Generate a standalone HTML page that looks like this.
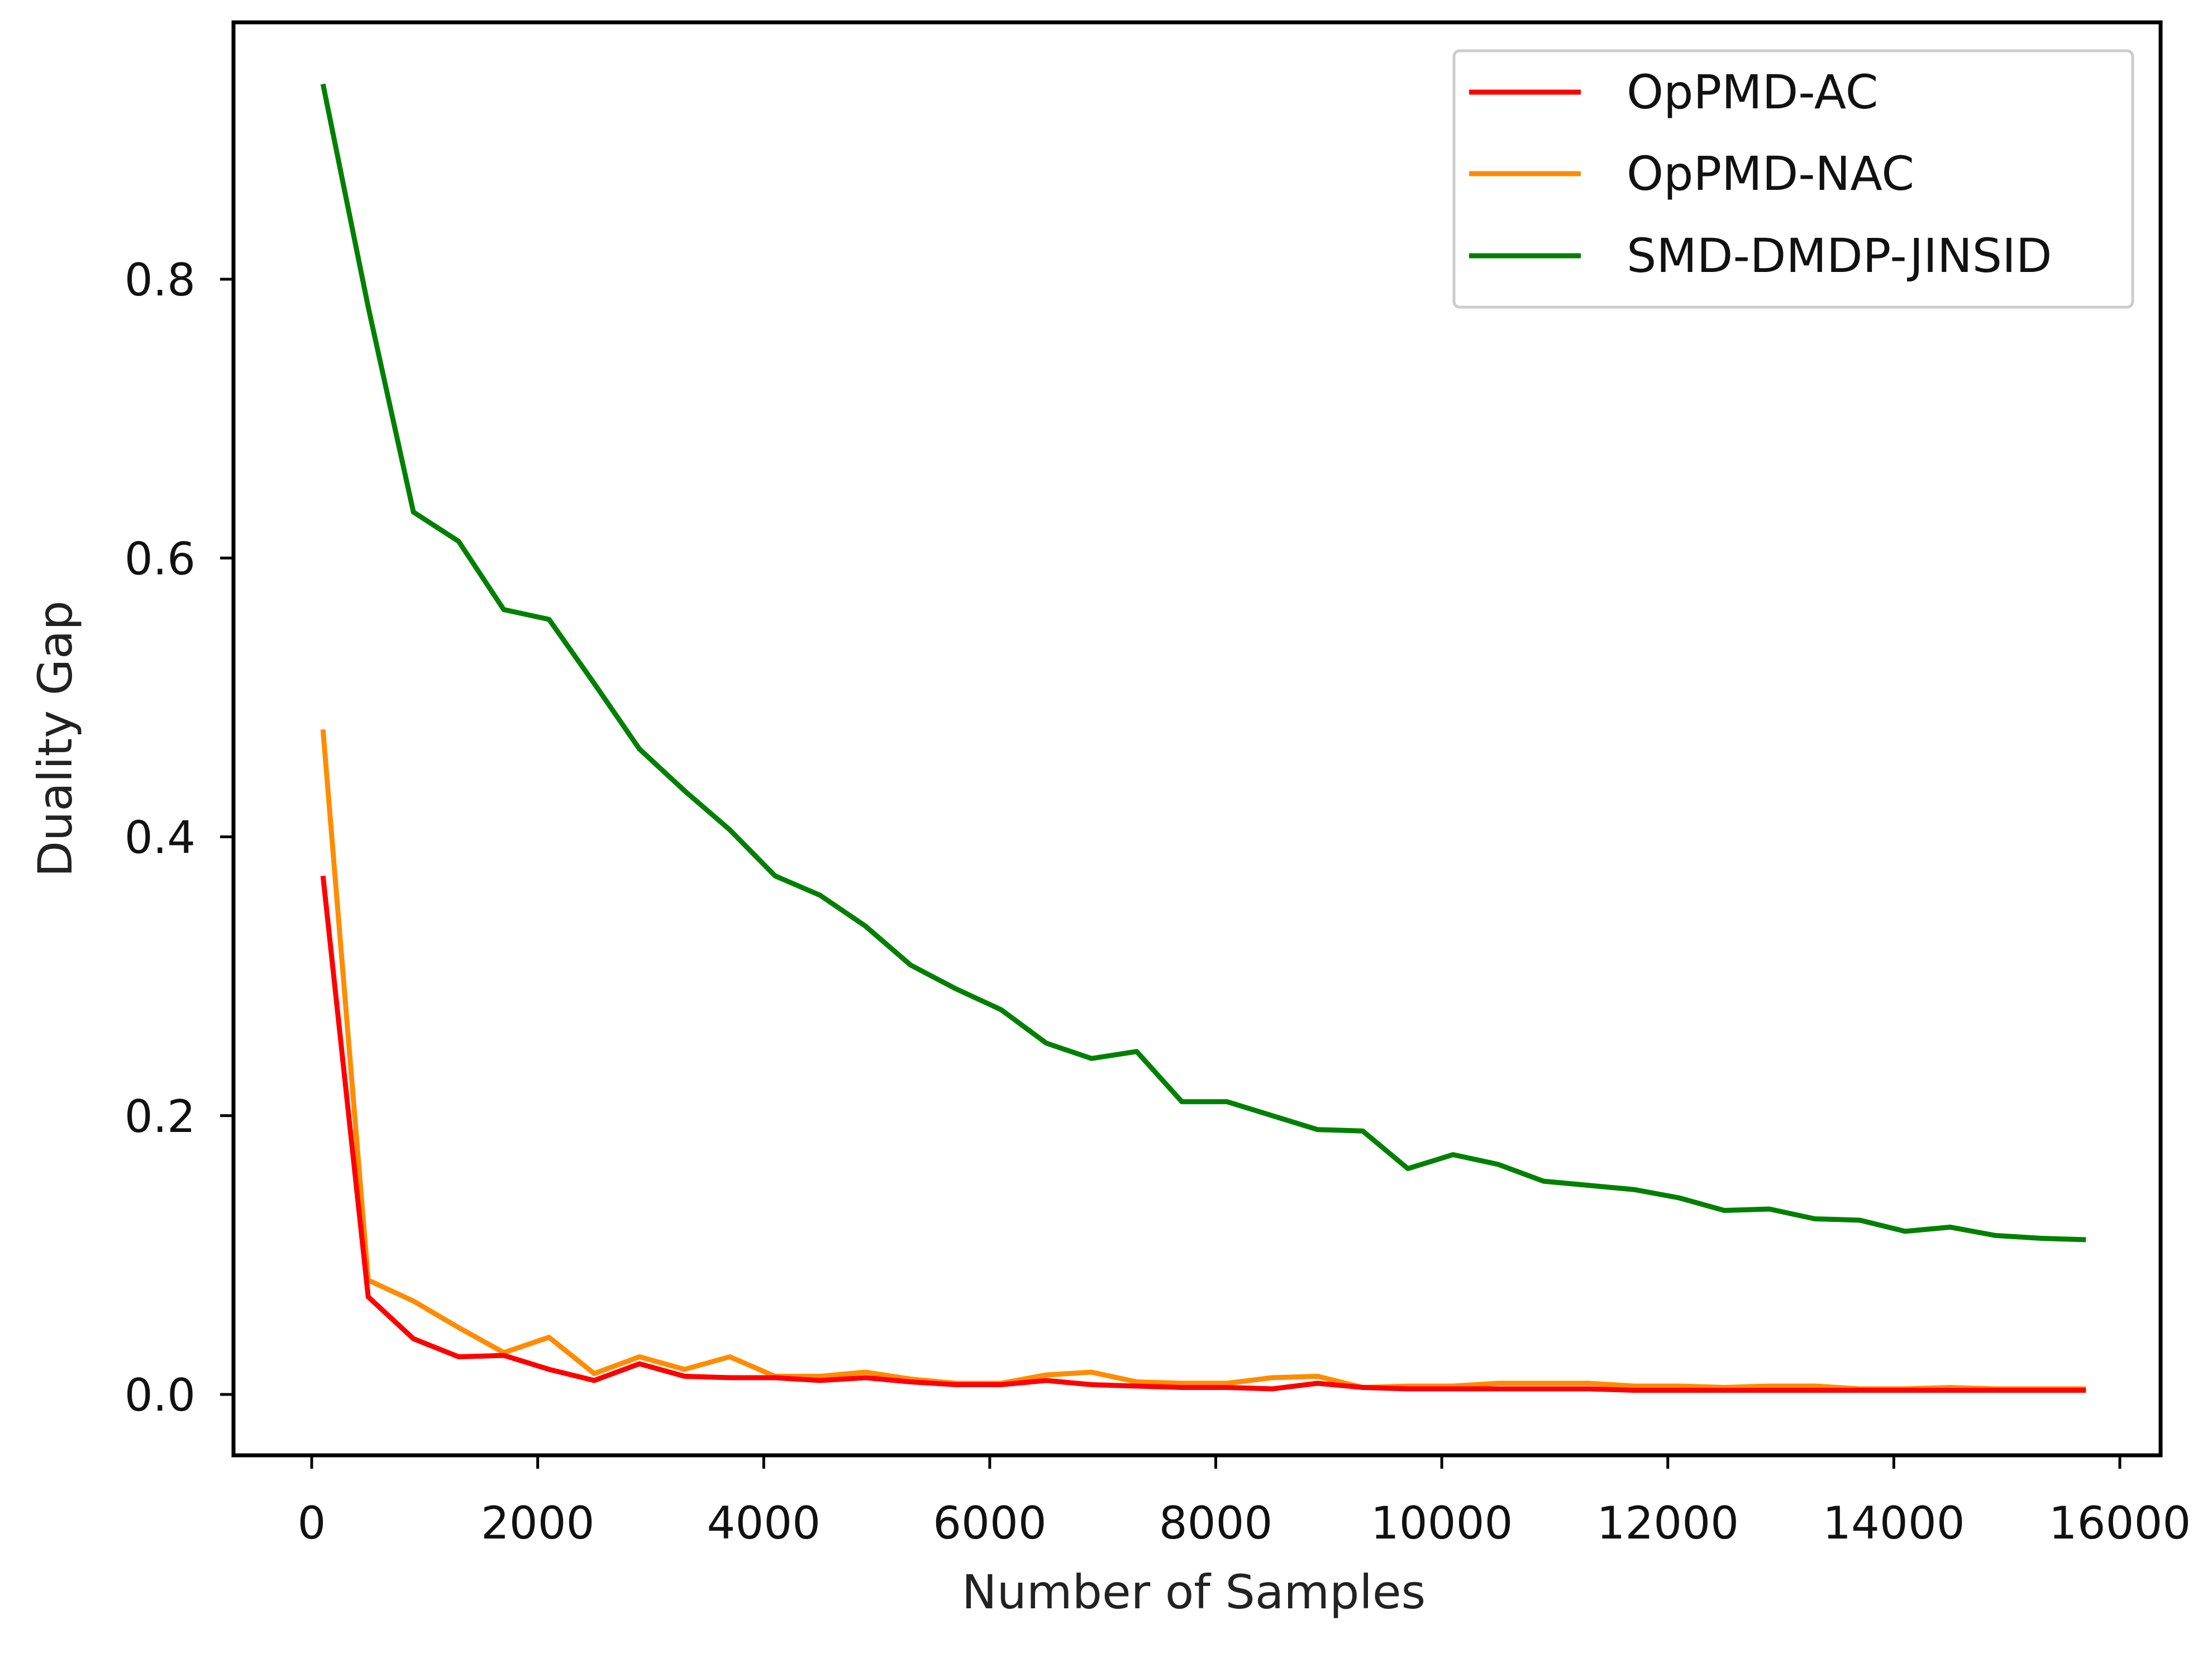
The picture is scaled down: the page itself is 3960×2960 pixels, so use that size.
<!DOCTYPE html>
<html><head><meta charset="utf-8"><style>
html,body{margin:0;padding:0;background:#fff;}
svg{display:block;font-family:"DejaVu Sans","Liberation Sans",sans-serif;}
</style></head><body>
<svg id="chart" width="3960" height="2960" viewBox="0 0 3960 2960">
<rect x="0" y="0" width="3960" height="2960" fill="#fff"/>
<g id="grid"></g>
<g id="series"></g>
<rect x="418" y="40" width="3450" height="2566" fill="none" stroke="#000" stroke-width="7"/>
<g id="xticks"></g>
<g id="yticks"></g>
<text x="2137" y="2880" font-size="84" text-anchor="middle" fill="#222">Number of Samples</text>
<text transform="translate(128,1323) rotate(-90)" font-size="84" text-anchor="middle" fill="#222">Duality Gap</text>
<g>
<rect x="2603" y="91" width="1215" height="459" rx="10" fill="#fff" stroke="#ccc" stroke-width="5"/>
<g>
<line x1="2630" y1="165" x2="2830" y2="165" stroke="#ff0000" stroke-width="9"/>
<text x="2912" y="194" font-size="84" fill="#111">OpPMD-AC</text></g>
<g>
<line x1="2630" y1="311" x2="2830" y2="311" stroke="#ff8c00" stroke-width="9"/>
<text x="2912" y="340" font-size="84" fill="#111">OpPMD-NAC</text></g>
<g>
<line x1="2630" y1="458" x2="2830" y2="458" stroke="#008000" stroke-width="9"/>
<text x="2912" y="487" font-size="84" fill="#111">SMD-DMDP-JINSID</text></g>
</g>
</svg>
<script>
const xStart = 100;
const xStep = 400;
const xTicks = [0,2000,4000,6000,8000,10000,12000,14000,16000];
const yTicks = [0.0,0.2,0.4,0.6,0.8];
const yTickLabels = ["0.0","0.2","0.4","0.6","0.8"];
const greenVals = [0.94,0.78,0.633,0.612,0.563,0.556,0.51,0.463,0.433,0.405,0.372,0.358,0.336,0.308,0.291,0.276,0.252,0.241,0.246,0.21,0.21,0.2,0.19,0.189,0.162,0.172,0.165,0.153,0.15,0.147,0.141,0.132,0.133,0.126,0.125,0.117,0.12,0.114,0.112,0.111];
const redVals = [0.372,0.07,0.04,0.027,0.028,0.018,0.01,0.022,0.013,0.012,0.012,0.01,0.012,0.009,0.007,0.007,0.01,0.007,0.006,0.005,0.005,0.004,0.008,0.005,0.004,0.004,0.004,0.004,0.004,0.003,0.003,0.003,0.003,0.003,0.003,0.003,0.003,0.003,0.003,0.003];
const orangeVals = [0.477,0.082,0.067,0.048,0.03,0.041,0.015,0.027,0.018,0.027,0.013,0.013,0.016,0.011,0.008,0.008,0.014,0.016,0.009,0.008,0.008,0.012,0.013,0.005,0.006,0.006,0.008,0.008,0.008,0.006,0.006,0.005,0.006,0.006,0.004,0.004,0.005,0.004,0.004,0.004];

const NS="http://www.w3.org/2000/svg";
function xs(v){return 558+(v-0)*(3795-558)/16000;}
function ys(v){return 2497-v*(2497-500)/0.8;}
const xt=document.getElementById('xticks'), yt=document.getElementById('yticks'), sg=document.getElementById('series');
xTicks.forEach(t=>{
  const l=document.createElementNS(NS,'line');
  l.setAttribute('x1',xs(t));l.setAttribute('x2',xs(t));l.setAttribute('y1',2606);l.setAttribute('y2',2630);
  l.setAttribute('stroke','#000');l.setAttribute('stroke-width','5');
  
  
  xt.appendChild(l);
  const tx=document.createElementNS(NS,'text');
  tx.setAttribute('x',xs(t));tx.setAttribute('y',2755);tx.setAttribute('font-size','80');tx.setAttribute('text-anchor','middle');tx.setAttribute('fill','#111');
  tx.textContent=String(t);
  
  
  xt.appendChild(tx);
});
yTicks.forEach((t,i)=>{
  const l=document.createElementNS(NS,'line');
  l.setAttribute('x1',394);l.setAttribute('x2',418);l.setAttribute('y1',ys(t));l.setAttribute('y2',ys(t));
  l.setAttribute('stroke','#000');l.setAttribute('stroke-width','5');
  
  
  yt.appendChild(l);
  const tx=document.createElementNS(NS,'text');
  tx.setAttribute('x',350);tx.setAttribute('y',ys(t)+29);tx.setAttribute('font-size','80');tx.setAttribute('text-anchor','end');tx.setAttribute('fill','#111');
  tx.textContent=yTickLabels[i];
  
  
  yt.appendChild(tx);
});
function drawSeries(vals,color,name){
  const pts=vals.map((v,i)=>xs(xStart+i*xStep).toFixed(1)+','+ys(v).toFixed(1)).join(' ');
  const p=document.createElementNS(NS,'polyline');
  p.setAttribute('points',pts);p.setAttribute('fill','none');p.setAttribute('stroke',color);
  p.setAttribute('stroke-width','9');p.setAttribute('stroke-linejoin','round');
  
  
  sg.appendChild(p);
}
drawSeries(greenVals,'#008000','line-smd-dmdp-jinsid');
drawSeries(orangeVals,'#ff8c00','line-oppmd-nac');
drawSeries(redVals,'#ff0000','line-oppmd-ac');
</script>
</body></html>
